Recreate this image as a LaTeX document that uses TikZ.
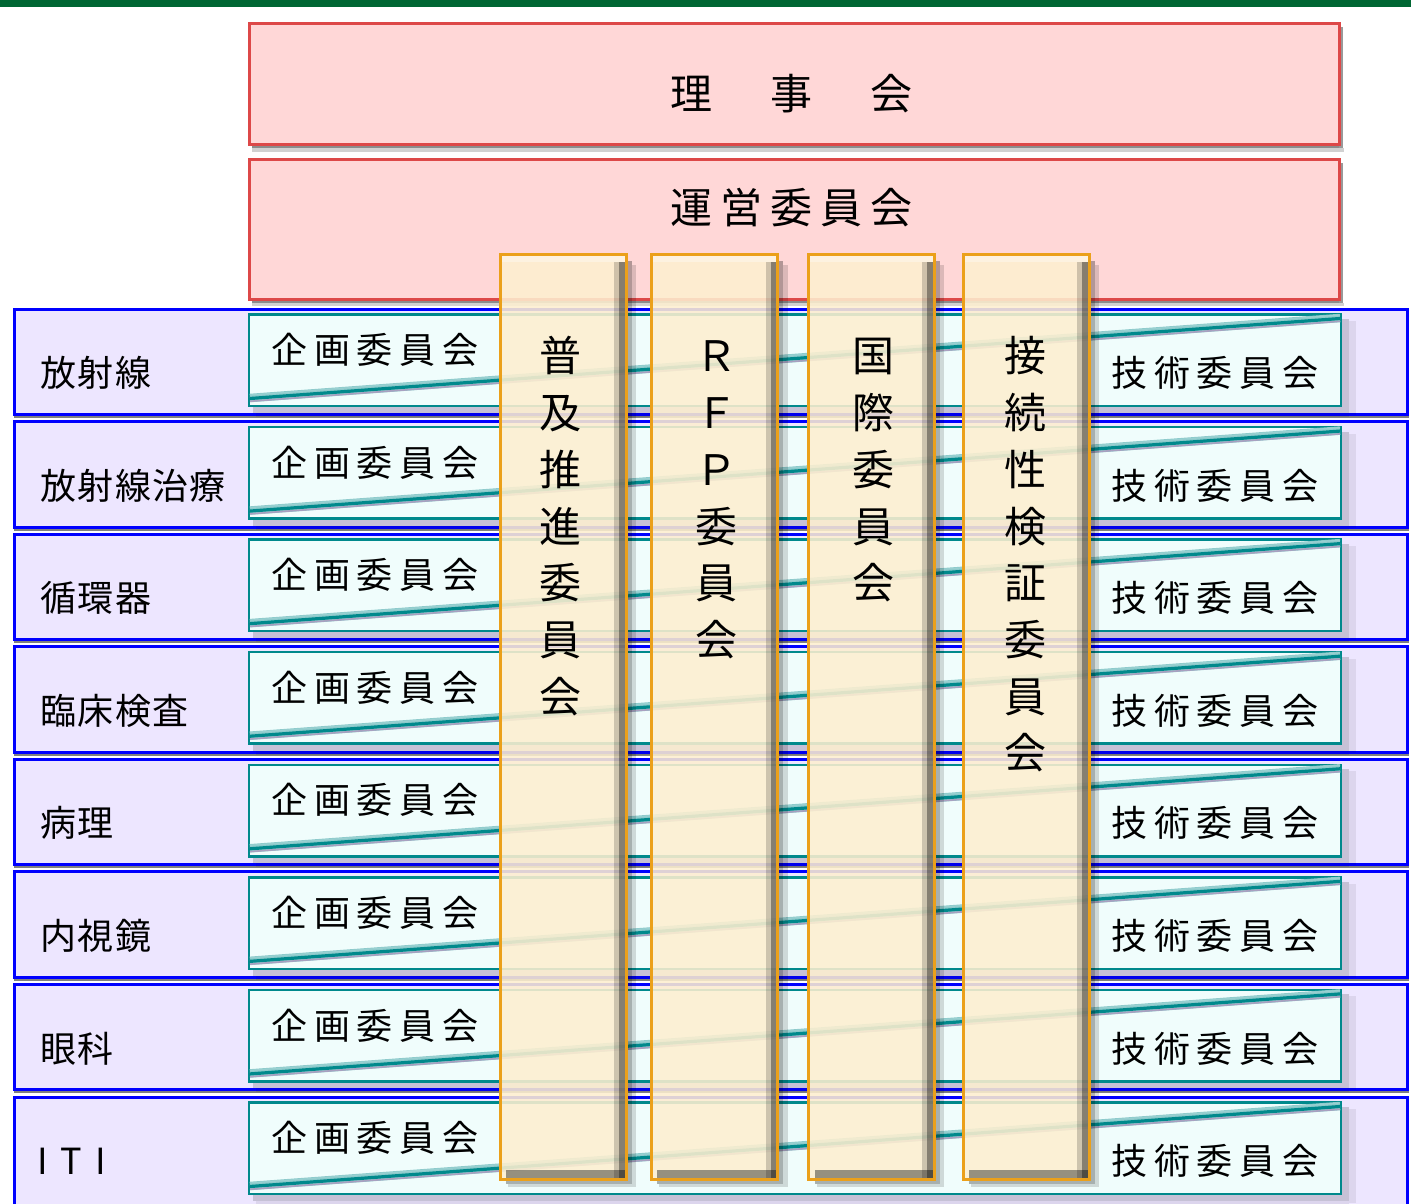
\documentclass[tikz,border=0pt]{standalone}
\usepackage{fontspec}
\newfontfamily\jp{Noto Sans CJK JP}
\newfontfamily\jpls{Noto Sans CJK JP}[LetterSpace=19]
\newfontfamily\jplab{Noto Sans CJK JP}[LetterSpace=4]
\definecolor{barGreen}{HTML}{006633}
\definecolor{pinkFill}{HTML}{FFD7D7}
\definecolor{pinkLine}{HTML}{DD4848}
\definecolor{lavFill}{HTML}{EDE6FF}
\definecolor{rowBlue}{HTML}{0000FF}
\definecolor{cyanFill}{HTML}{F0FDFC}
\definecolor{tealLine}{HTML}{00898C}
\definecolor{bandLilac}{HTML}{A8A0C0}
\definecolor{colFill}{HTML}{FDEFD0}
\definecolor{colLine}{HTML}{EBA01A}
\tikzset{
  pinkbox/.style={fill=pinkFill, draw=pinkLine, line width=3pt},
  rowbox/.style={fill=lavFill, draw=rowBlue, line width=3pt},
  cyanbox/.style={fill=cyanFill, draw=tealLine, line width=2.5pt},
  colbox/.style={draw=colLine, line width=3pt},
  toptext/.style={font=\jpls\fontsize{42}{50}\selectfont, inner sep=0pt, anchor=west},
  comm/.style={font=\jpls\fontsize{36}{40}\selectfont, inner sep=0pt, anchor=west},
  rowlab/.style={font=\jplab\fontsize{36}{40}\selectfont, inner sep=0pt, anchor=west},
  vtext/.style={font=\jp\fontsize{42}{56.7}\selectfont, inner sep=0pt, align=center, anchor=north},
}
\begin{document}
\begin{tikzpicture}[x=1pt,y=-1pt]
\useasboundingbox (0,0) rectangle (1411,1203);
\fill[white] (0,0) rectangle (1411,1203);
\fill[barGreen] (0,0) rectangle (1411,6.5);

% upper boxes
\foreach \a/\b in {23.5/144.5, 159.5/299} {
  \fill[black!45] (252,\b) rectangle (1343,\b+3.5);
  \fill[black!18] (252,\b+3.5) rectangle (1344,\b+7);
  \fill[black!40] (1339,\a+3) rectangle (1343,\b+3.5);
  \filldraw[pinkbox] (249.5,\a) rectangle (1339,\b);
}
\node[toptext] (rijikai) at (670,93.5) {理　事　会};
\node[toptext] (unei) at (670,207.5) {運営委員会};

% rows
\foreach \i/\lab in {0/放射線, 1/放射線治療, 2/循環器, 3/臨床検査, 4/病理, 5/内視鏡, 6/眼科,
  7/{\makebox[29pt]{I}\makebox[29pt]{T}\makebox[29pt]{I}}} {
  \pgfmathsetmacro\t{309+\i*112.57}
  \pgfmathsetmacro\b{ifthenelse(\i==7,1230,\t+105.5)}
  \fill[black!50] (14,\b+1.5) rectangle (1408.5,\b+3.5);
  \filldraw[rowbox] (14.5,\t) rectangle (1407,\b);
  % shadow of the inner box
  \fill[black, opacity=0.16] (253,\t+98) rectangle (1349,\t+104);
  \fill[black, opacity=0.16] (1342,\t+10) rectangle (1349,\t+98);
  \fill[black, opacity=0.07] (1349,\t+12) rectangle (1356,\t+106);
  \fill[black, opacity=0.07] (256,\t+104) rectangle (1349,\t+108);
  \filldraw[cyanbox] (249,\t+5.5) rectangle (1341,\t+97);
  % twisted band
  \draw[line width=8.5pt, tealLine!45!white] (250,\t+89) -- (1340,\t+9);
  \draw[line width=3.2pt, tealLine] (250,\t+89.5) -- (1340,\t+9.5);
  \draw[line width=1.6pt, bandLilac] (250,\t+92.3) -- (1340,\t+12.3);
  \draw[line width=1.2pt, white!60!tealLine] (250,\t+86) -- (1340,\t+6);
  % texts
  \node[rowlab, anchor=west] (lab\i) at (\ifnum\i=7 28\else 40\fi,\t+64) {\lab};
  \node[comm] (plan\i) at (271,\t+41) {企画委員会};
  \node[comm] (tech\i) at (1111,\t+64) {技術委員会};
}

% vertical committees
\foreach \L/\R/\n in {500/626/1, 651/777.5/2, 808.5/934/3, 963/1089/4} {
  % outer shadow
  \fill[black, opacity=0.30] (\R+1.5,261) rectangle (\R+5.5,1184);
  \fill[black, opacity=0.14] (\R+5.5,265) rectangle (\R+10,1187);
  \fill[black, opacity=0.30] (\L+6,1180.5) rectangle (\R+1.5,1184);
  \fill[black, opacity=0.14] (\L+8,1184) rectangle (\R+5.5,1187);
  % body
  \fill[colFill, fill opacity=0.88] (\L,254.5) rectangle (\R,1179);
  \fill[white, opacity=0.35] (\L+1.5,256) rectangle (\R-1.5,262);
  \fill[black, opacity=0.18] (\R-12,262) rectangle (\R-1.5,1177.5);
  \fill[black, opacity=0.35] (\R-7,262) rectangle (\R-1.5,1177.5);
  \fill[black, opacity=0.40] (\L+6,1170) rectangle (\R-1.5,1177.5);
  \draw[colbox] (\L,254.5) rectangle (\R,1179);
}
\node[vtext] (fukyu) at (560,332) {\strut 普\\及\\推\\進\\委\\員\\会};
\node[vtext] (rfp) at (716,332) {\strut Ｒ\\Ｆ\\Ｐ\\委\\員\\会};
\node[vtext] (kokusai) at (873,332) {\strut 国\\際\\委\\員\\会};
\node[vtext] (setsuzoku) at (1025,332) {\strut 接\\続\\性\\検\\証\\委\\員\\会};
\end{tikzpicture}
\end{document}
